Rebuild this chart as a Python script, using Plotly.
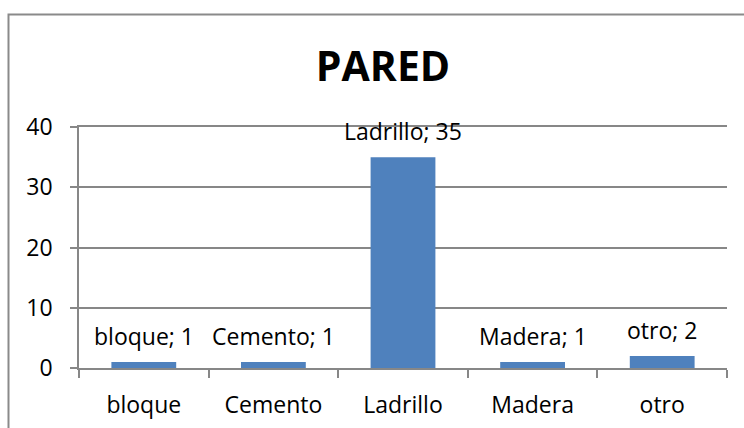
import plotly.graph_objects as go

categories = ["bloque", "Cemento", "Ladrillo", "Madera", "otro"]
values = [1, 1, 35, 1, 2]
y_ticks = [0, 10, 20, 30, 40]

FONT = "Open Sans"
GRID = "#878787"

fig = go.Figure(
    go.Bar(
        x=categories,
        y=values,
        marker=dict(color="#4F81BD", line=dict(width=0)),
        width=0.5,
        hoverinfo="skip",
    )
)

for c, v in zip(categories, values):
    fig.add_annotation(
        x=c, y=v, text=f"{c}; {v}", showarrow=False,
        yanchor="middle", yshift=26,
        font=dict(family=FONT, size=23, color="#000000"),
    )

fig.add_shape(
    type="rect", xref="paper", yref="paper",
    x0=-0.1088, x1=1.2, y0=-0.5, y1=1.4668,
    line=dict(color="#8a8a8a", width=2), fillcolor="rgba(0,0,0,0)", layer="above",
)

fig.update_layout(
    width=744, height=428,
    margin=dict(l=79, r=17, t=127, b=60, autoexpand=False),
    paper_bgcolor="white", plot_bgcolor="white",
    showlegend=False,
    title=dict(
        text="<b>PARED</b>", x=383 / 744, xanchor="center",
        y=1 - 67 / 428, yanchor="middle",
        font=dict(family=FONT, size=41, color="#000000"),
    ),
    font=dict(family=FONT, size=23, color="#000000"),
    xaxis=dict(
        type="category", tickson="boundaries", ticks="outside", ticklen=8,
        tickcolor=GRID, tickwidth=1.5,
        showline=True, linecolor=GRID, linewidth=1.5, mirror=True,
        showgrid=False, ticklabelstandoff=16, automargin=False,
        tickfont=dict(family=FONT, size=23, color="#000000"),
    ),
    yaxis=dict(
        range=[0, 40], tickvals=y_ticks, ticks="outside", ticklen=7,
        tickcolor=GRID, tickwidth=1.5,
        showline=True, linecolor=GRID, linewidth=1.5,
        showgrid=True, gridcolor=GRID, gridwidth=1.5,
        zeroline=False, ticklabelstandoff=13, automargin=False,
        tickfont=dict(family=FONT, size=23, color="#000000"),
    ),
)

fig.write_html(
    "out.html",
    config={"displayModeBar": False},
    post_script="document.body.style.margin='0';document.body.style.overflow='hidden';",
)
